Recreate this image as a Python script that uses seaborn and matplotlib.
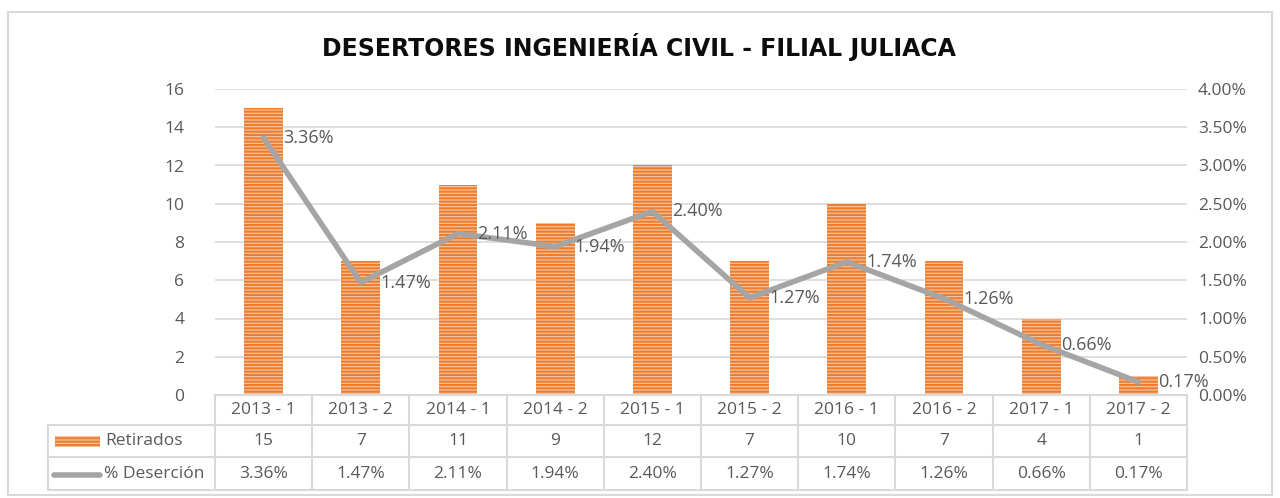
import matplotlib
matplotlib.use('Agg')
import matplotlib.pyplot as plt
import seaborn as sns
from matplotlib.patches import Rectangle
from matplotlib.lines import Line2D

# Datos del gráfico
periodos = ['2013 - 1', '2013 - 2', '2014 - 1', '2014 - 2', '2015 - 1',
            '2015 - 2', '2016 - 1', '2016 - 2', '2017 - 1', '2017 - 2']
retirados = [15, 7, 11, 9, 12, 7, 10, 7, 4, 1]
desercion = [3.36, 1.47, 2.11, 1.94, 2.40, 1.27, 1.74, 1.26, 0.66, 0.17]

sns.set_style('white')
plt.rcParams['font.family'] = ['Open Sans', 'DejaVu Sans']
plt.rcParams['hatch.linewidth'] = 1.6
plt.rcParams['hatch.color'] = '#ED7D31'

gris_texto = '#595959'
gris_linea = '#D9D9D9'
naranja = '#ED7D31'

fig = plt.figure(figsize=(12.8, 4.98), dpi=100)
ax = fig.add_axes([215 / 1280, 1 - 395 / 498, 972 / 1280, 306 / 498])

# Barras
sns.barplot(x=periodos, y=retirados, ax=ax, color='#F9C9A6', width=0.4,
            saturation=1, edgecolor='none', linewidth=0)
for barra in ax.patches:
    barra.set_hatch('-----')
    barra.set_edgecolor(naranja)
    barra.set_linewidth(0)

ax.set_ylim(0, 16)
ax.set_yticks(range(0, 17, 2))
ax.set_xlim(-0.5, len(periodos) - 0.5)
ax.yaxis.grid(True, color=gris_linea, linewidth=1.2)
ax.set_axisbelow(True)
ax.tick_params(axis='y', length=0, labelsize=12.5, labelcolor=gris_texto, pad=22)
ax.set_xticks([])
ax.set_xlabel('')
ax.set_ylabel('')
for s in ax.spines.values():
    s.set_visible(False)

# Linea de % deserción
ax2 = ax.twinx()
sns.lineplot(x=periodos, y=desercion, ax=ax2, color='#A5A5A5', linewidth=4,
             sort=False, solid_capstyle='round', solid_joinstyle='round')
ax2.set_ylim(0, 4)
ax2.set_yticks([i * 0.5 for i in range(9)])
ax2.set_yticklabels([f'{v:.2f}%' for v in [i * 0.5 for i in range(9)]])
ax2.tick_params(axis='y', length=0, labelsize=12.5, labelcolor=gris_texto, pad=8)
ax2.set_xlim(-0.5, len(periodos) - 0.5)
ax2.set_ylabel('')
for s in ax2.spines.values():
    s.set_visible(False)

for i, v in enumerate(desercion):
    ax2.annotate(f'{v:.2f}%', (i, v), xytext=(14, 0), textcoords='offset points',
                 ha='left', va='center', fontsize=13, color=gris_texto)

# Tabla de datos debajo del gráfico
tr = ax.transAxes
n = len(periodos)
y_filas = [0, -30 / 306, -62 / 306, -95 / 306]
x_izq = (48 - 215) / 972

def linea(x0, x1, y0, y1):
    ax.add_line(Line2D([x0, x1], [y0, y1], transform=tr, color=gris_linea,
                       linewidth=1.5, clip_on=False))

linea(0, 1, 0, 0)
for y in y_filas[1:]:
    linea(x_izq, 1, y, y)
for k in range(n + 1):
    linea(k / n, k / n, 0, y_filas[3])
linea(x_izq, x_izq, y_filas[1], y_filas[3])

for k in range(n):
    xc = (k + 0.5) / n
    ax.text(xc, (y_filas[0] + y_filas[1]) / 2, periodos[k], transform=tr,
            ha='center', va='center', fontsize=12.5, color=gris_texto)
    ax.text(xc, (y_filas[1] + y_filas[2]) / 2, str(retirados[k]), transform=tr,
            ha='center', va='center', fontsize=12.5, color=gris_texto)
    ax.text(xc, (y_filas[2] + y_filas[3]) / 2, f'{desercion[k]:.2f}%', transform=tr,
            ha='center', va='center', fontsize=12.5, color=gris_texto)

# Claves de la leyenda en la tabla
px = 1 / 972
py = 1 / 306
ax.add_patch(Rectangle(((55 - 215) * px, -(447 - 395) * py), 45 * px, 11 * py,
                       transform=tr, facecolor='#F9C9A6', hatch='-----',
                       edgecolor=naranja, linewidth=0, clip_on=False))
ax.add_line(Line2D([(54 - 215) * px, (100 - 215) * px], [-(475 - 395) * py] * 2,
                   transform=tr, color='#A5A5A5', linewidth=4,
                   solid_capstyle='round', clip_on=False))
ax.text((105 - 215) * px, (y_filas[1] + y_filas[2]) / 2, 'Retirados', transform=tr,
        ha='left', va='center', fontsize=12.5, color=gris_texto)
ax.text((104 - 215) * px, (y_filas[2] + y_filas[3]) / 2, '% Deserción', transform=tr,
        ha='left', va='center', fontsize=12.5, color=gris_texto)

# Titulo
fig.text(639 / 1280, 1 - 47 / 498, 'DESERTORES INGENIERÍA CIVIL - FILIAL JULIACA',
         ha='center', va='center', fontsize=17, fontweight='bold',
         family='DejaVu Sans', color='#0D0D0D')

# Marco exterior
fig.add_artist(Rectangle((8 / 1280, 1 - 495 / 498), 1264 / 1280, 483 / 498,
                         transform=fig.transFigure, fill=False,
                         edgecolor=gris_linea, linewidth=1.5))

fig.savefig('out.png', dpi=100)
